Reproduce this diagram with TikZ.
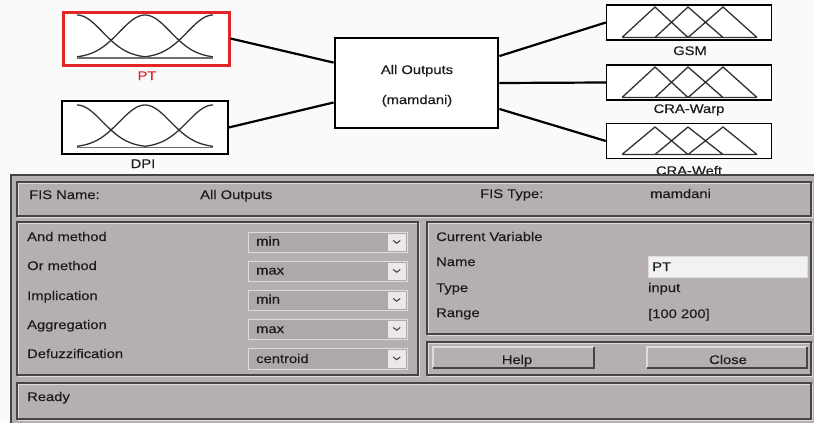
\documentclass[tikz,border=0pt]{standalone}
\usepackage{fontspec}
\setmainfont{Liberation Sans}[FakeStretch=1.18, FakeBold=0.35]
\usetikzlibrary{calc}
\definecolor{panelgray}{RGB}{181,175,176}
\definecolor{framedark}{RGB}{72,68,68}
\definecolor{framelight}{RGB}{224,220,220}
\definecolor{fieldgray}{RGB}{174,168,169}
\definecolor{arrowbg}{RGB}{234,232,232}
\definecolor{txt}{RGB}{28,28,28}
\definecolor{ptred}{RGB}{224,38,38}
\definecolor{curve}{RGB}{50,50,50}
\tikzset{
  mfbox/.style={draw=black, line width=1.4pt, fill=white, inner sep=0pt},
  inbox/.style={mfbox, minimum width=166pt, minimum height=53pt},
  outbox/.style={mfbox, minimum width=165pt, minimum height=35pt},
  lbl/.style={font=\fontsize{12.5}{14}\selectfont, text=txt, inner sep=0pt, anchor=base},
  ptxt/.style={font=\fontsize{12.5}{14}\selectfont, text=txt, inner sep=0pt, anchor=base west},
  conn/.style={line width=2.2pt, black},
  mfcurve/.style={curve, line width=1.3pt},
  frm/.style={framedark, line width=1.3pt},
  frmlite/.style={framelight, line width=1pt},
}
\newcommand{\myframe}[4]{%
  \draw[frmlite] (#1+1.5,#2+1.5) rectangle (#3+1.5,#4+1.5);
  \draw[frm] (#1,#2) rectangle (#3,#4);}
\newcommand{\mydrop}[3]{%
  \draw[fill=fieldgray, draw=framelight, line width=0.8pt] (248,#1) rectangle (407,#2);
  \fill[arrowbg] (388,#1+1.5) rectangle (405.5,#2-1.5);
  \draw[framedark, line width=1.1pt] ($(396.7,{(#1+#2)/2})+(-3.5,-1.5)$) -- ($(396.7,{(#1+#2)/2})+(0,1.2)$) -- ($(396.7,{(#1+#2)/2})+(3.5,-1.5)$);}
\newcommand{\mygauss}[3]{%
  \foreach \c in {77,145,213}{%
    \draw[mfcurve, domain={max(77,\c-68)}:{min(213,\c+68)}, samples=50, smooth]
      plot (\x, {#2 - (#2-#1)*exp(-0.5*((\x-\c)/25.5)^2)});}
  \draw[curve!70, line width=1.4pt] (77,#2) -- (213,#2);}
\newcommand{\mytri}[2]{%
  \draw[curve, line width=1.3pt, line join=miter] (622,#2) -- (655,#1) -- (688,#2)
     (655,#2) -- (688,#1) -- (723,#2) (688,#2) -- (723,#1) -- (757,#2) (622,#2) -- (757,#2);}
\begin{document}
\begin{tikzpicture}[x=1pt,y=-1pt]
\useasboundingbox (0,0) rectangle (814,423);
\fill[white!98!black] (0,0) rectangle (814,423);

% input membership boxes
\node[inbox, draw=ptred, line width=3pt] (pt) at (146,38.5) {};
\mygauss{15}{58}{}
\node[lbl, text=ptred] (ptl) at (147,80) {PT};
\node[inbox] (dpi) at (145,127.5) {};
\mygauss{105}{147.5}{}
\node[lbl] (dpil) at (143,168) {DPI};

% central box
\node[mfbox, line width=2.8pt, minimum width=163pt, minimum height=90pt] (cen) at (416.5,83) {};
\node[lbl] (cen1) at (417,74) {All Outputs};
\node[lbl] (cen2) at (417,104) {(mamdani)};

% output boxes
\node[outbox] (gsm) at (689,22.5) {};
\mytri{7}{37.5}
\node[lbl] (gsml) at (690,55) {GSM};
\node[outbox] (warp) at (689,82.5) {};
\mytri{67}{97.5}
\node[lbl] (warpl) at (689,113) {CRA-Warp};
\node[outbox] (weft) at (689,141) {};
\mytri{127}{154.5}
\node[lbl] (weftl) at (689,175) {CRA-Weft};

% connectors
\draw[conn] (pt.east) -- ($(cen.north west)!0.28!(cen.south west)$);
\draw[conn] (dpi.east) -- ($(cen.north west)!0.71!(cen.south west)$);
\draw[conn] ($(cen.north east)!0.21!(cen.south east)$) -- (gsm.west);
\draw[conn] (cen.east) -- (warp.west);
\draw[conn] ($(cen.north east)!0.78!(cen.south east)$) -- (weft.west);

% GUI panel
\fill[panelgray] (10,174) rectangle (814,423);
\draw[framedark, line width=1.3pt] (11,423) -- (11,175) -- (814,175);
\myframe{17}{182}{811}{216}
\myframe{17}{222}{418}{375}
\myframe{427}{222}{811}{334}
\myframe{427}{342}{811}{375}
\myframe{17}{383}{811}{419}

% FIS row
\node[ptxt] (fisname) at (29,199) {FIS Name:};
\node[ptxt] (fisnamev) at (200,199) {All Outputs};
\node[ptxt] (fistype) at (480,198) {FIS Type:};
\node[ptxt] (fistypev) at (650,198) {mamdani};

% methods
\mydrop{232}{252}{}
\mydrop{261}{281}{}
\mydrop{290}{310}{}
\mydrop{319}{339}{}
\mydrop{348}{369}{}
\node[ptxt] (m1) at (27,241) {And method};
\node[ptxt] (m2) at (27,270) {Or method};
\node[ptxt] (m3) at (27,300) {Implication};
\node[ptxt] (m4) at (27,329) {Aggregation};
\node[ptxt] (m5) at (27,358) {Defuzzification};
\node[ptxt] (v1) at (256,245.5) {min};
\node[ptxt] (v2) at (256,274.5) {max};
\node[ptxt] (v3) at (256,303.5) {min};
\node[ptxt] (v4) at (256,333) {max};
\node[ptxt] (v5) at (256,363) {centroid};

% current variable
\node[ptxt] (cv) at (436,241) {Current Variable};
\node[ptxt] (cvn) at (436,266) {Name};
\node[ptxt] (cvt) at (436,292) {Type};
\node[ptxt] (cvr) at (436,317) {Range};
\draw[fill=white!95!black, draw=framelight, line width=0.8pt] (648,256) rectangle (807,277);
\node[ptxt] (cvnv) at (652,271) {PT};
\node[ptxt] (cvtv) at (648,292) {input};
\node[ptxt] (cvrv) at (648,318) {[100 200]};

% buttons
\draw[framelight, line width=1.2pt] (433,368) -- (433,347) -- (594,347);
\draw[framedark, line width=1.4pt] (433,368) -- (594,368) -- (594,347);
\node[lbl] (help) at (517,364) {Help};
\draw[framelight, line width=1.2pt] (647,368) -- (647,347) -- (807,347);
\draw[framedark, line width=1.4pt] (647,368) -- (807,368) -- (807,347);
\node[lbl] (close) at (728,364) {Close};

% status
\node[ptxt] (ready) at (27,401) {Ready};
\end{tikzpicture}
\end{document}
